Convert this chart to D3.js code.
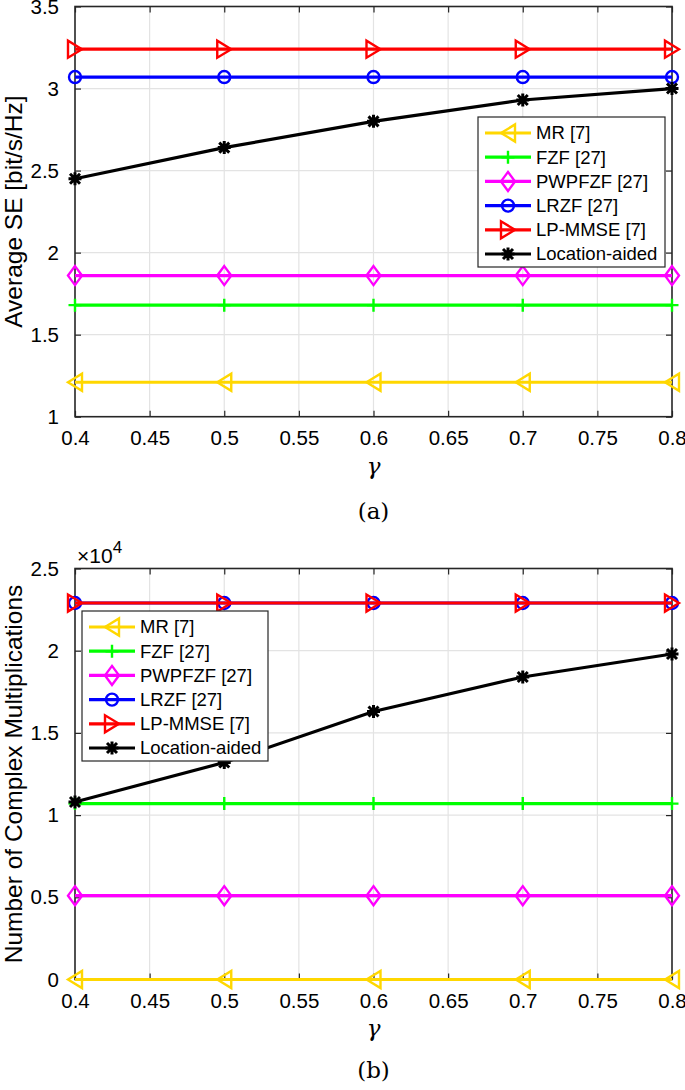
<!DOCTYPE html>
<html>
<head>
<meta charset="utf-8">
<script src="https://cdn.jsdelivr.net/npm/d3@7"></script>
<style>
  html, body { margin: 0; padding: 0; background: #fff; }
  svg { display: block; }
</style>
</head>
<body>
<svg id="chart" width="685" height="1090"></svg>
<script>
// ---------------- data ----------------
const gammaValues = [0.4, 0.5, 0.6, 0.7, 0.8];
const seriesNames = ["MR [7]", "FZF [27]", "PWPFZF [27]", "LRZF [27]", "LP-MMSE [7]", "Location-aided"];
const xTicks = [0.4, 0.45, 0.5, 0.55, 0.6, 0.65, 0.7, 0.75, 0.8];
const xTickLabels = ["0.4", "0.45", "0.5", "0.55", "0.6", "0.65", "0.7", "0.75", "0.8"];

// (a) Average SE [bit/s/Hz]
const seMR       = [1.21, 1.21, 1.21, 1.21, 1.21];
const seFZF      = [1.68, 1.68, 1.68, 1.68, 1.68];
const sePWPFZF   = [1.86, 1.86, 1.86, 1.86, 1.86];
const seLRZF     = [3.07, 3.07, 3.07, 3.07, 3.07];
const seLPMMSE   = [3.24, 3.24, 3.24, 3.24, 3.24];
const seLocation = [2.45, 2.64, 2.80, 2.93, 3.00];
const yTicksA = [1, 1.5, 2, 2.5, 3, 3.5];
const yTickLabelsA = ["1", "1.5", "2", "2.5", "3", "3.5"];

// (b) Number of complex multiplications (x 10^4)
const cmMR       = [0, 0, 0, 0, 0];
const cmFZF      = [1.07, 1.07, 1.07, 1.07, 1.07];
const cmPWPFZF   = [0.51, 0.51, 0.51, 0.51, 0.51];
const cmLRZF     = [2.29, 2.29, 2.29, 2.29, 2.29];
const cmLPMMSE   = [2.29, 2.29, 2.29, 2.29, 2.29];
const cmLocation = [1.08, 1.32, 1.63, 1.84, 1.98];
const yTicksB = [0, 0.5, 1, 1.5, 2, 2.5];
const yTickLabelsB = ["0", "0.5", "1", "1.5", "2", "2.5"];

// ---------------- styles ----------------
const colors = ["#FFD700", "#00FF00", "#FF00FF", "#0000FF", "#FF0000", "#000000"];
const markers = ["tri-left", "plus", "diamond", "circle", "tri-right", "star"];
const SANS = "'Liberation Sans', Arial, Helvetica, sans-serif";
const SERIF = "'DejaVu Serif', 'Liberation Serif', serif";

const svg = d3.select("#chart");

function markerPath(type) {
  const p = d3.path();
  switch (type) {
    case "tri-left":
      p.moveTo(-7, 0); p.lineTo(7, -8.5); p.lineTo(7, 8.5); p.closePath(); break;
    case "tri-right":
      p.moveTo(7, 0); p.lineTo(-7, -8.5); p.lineTo(-7, 8.5); p.closePath(); break;
    case "diamond":
      p.moveTo(0, -9.5); p.lineTo(7, 0); p.lineTo(0, 9.5); p.lineTo(-7, 0); p.closePath(); break;
    case "circle":
      p.arc(0, 0, 6, 0, 2 * Math.PI); break;
    case "plus":
      p.moveTo(-6.5, 0); p.lineTo(6.5, 0); p.moveTo(0, -6.5); p.lineTo(0, 6.5); break;
    case "star":
      p.moveTo(-6.5, 0); p.lineTo(6.5, 0); p.moveTo(0, -6.5); p.lineTo(0, 6.5);
      p.moveTo(-5, -5); p.lineTo(5, 5); p.moveTo(-5, 5); p.lineTo(5, -5); break;
  }
  return p.toString();
}

function drawMarker(g, type, color, x, y) {
  g.append("path")
    .attr("d", markerPath(type))
    .attr("transform", `translate(${x},${y})`)
    .attr("fill", "none")
    .attr("stroke", color)
    .attr("stroke-width", type === "star" ? 3 : 2.4)
    .attr("stroke-linejoin", "miter");
}

function drawPanel(opts) {
  const { top, bottom, left, right, yDomain, yTicks, yTickLabels, series, yLabel, legend, caption, captionY, gammaY, exponent } = opts;
  const x = d3.scaleLinear().domain([0.4, 0.8]).range([left, right]);
  const y = d3.scaleLinear().domain(yDomain).range([bottom, top]);
  const g = svg.append("g");

  // grid
  g.append("g").selectAll("line.vg").data(xTicks.slice(1, -1)).join("line")
    .attr("x1", d => x(d)).attr("x2", d => x(d)).attr("y1", top).attr("y2", bottom)
    .attr("stroke", "#e3e3e3").attr("stroke-width", 1.2);
  g.append("g").selectAll("line.hg").data(yTicks.slice(1, -1)).join("line")
    .attr("x1", left).attr("x2", right).attr("y1", d => y(d)).attr("y2", d => y(d))
    .attr("stroke", "#e3e3e3").attr("stroke-width", 1.2);

  // axes via d3 axis generators (inward ticks)
  const fmtX = (d, i) => xTickLabels[i];
  const fmtY = (d, i) => yTickLabels[i];
  const styleAxis = (sel) => {
    sel.select(".domain").remove();
    sel.selectAll(".tick line").attr("stroke", "#262626").attr("stroke-width", 1.2);
    sel.selectAll(".tick text").attr("fill", "#000").style("font-family", SANS).style("font-size", "20.5px");
  };
  g.append("g").attr("transform", `translate(0,${bottom})`)
    .call(d3.axisBottom(x).tickValues(xTicks).tickFormat(fmtX).tickSizeInner(-6).tickPadding(14))
    .call(styleAxis);
  g.append("g").attr("transform", `translate(0,${top})`)
    .call(d3.axisTop(x).tickValues(xTicks).tickFormat("").tickSizeInner(-6))
    .call(styleAxis);
  g.append("g").attr("transform", `translate(${left},0)`)
    .call(d3.axisLeft(y).tickValues(yTicks).tickFormat(fmtY).tickSizeInner(-6).tickPadding(16))
    .call(styleAxis);
  g.append("g").attr("transform", `translate(${right},0)`)
    .call(d3.axisRight(y).tickValues(yTicks).tickFormat("").tickSizeInner(-6))
    .call(styleAxis);

  // box
  g.append("rect").attr("x", left).attr("y", top).attr("width", right - left).attr("height", bottom - top)
    .attr("fill", "none").attr("stroke", "#262626").attr("stroke-width", 1.6);

  // series
  const line = d3.line().x((d, i) => x(gammaValues[i])).y(d => y(d));
  series.forEach((vals, si) => {
    const sg = g.append("g");
    sg.append("path").datum(vals).attr("d", line)
      .attr("fill", "none").attr("stroke", colors[si]).attr("stroke-width", 3.2);
    vals.forEach((v, i) => drawMarker(sg, markers[si], colors[si], x(gammaValues[i]), y(v)));
  });

  // legend
  const lg = g.append("g");
  lg.append("rect").attr("x", legend.x).attr("y", legend.y).attr("width", legend.w).attr("height", legend.h)
    .attr("fill", "#fff").attr("stroke", "#262626").attr("stroke-width", 1.2);
  seriesNames.forEach((name, si) => {
    const ry = legend.y + 16 + si * 24.2;
    lg.append("line").attr("x1", legend.x + 7).attr("x2", legend.x + 53).attr("y1", ry).attr("y2", ry)
      .attr("stroke", colors[si]).attr("stroke-width", 3.2);
    drawMarker(lg, markers[si], colors[si], legend.x + 30, ry);
    lg.append("text").attr("x", legend.x + 58).attr("y", ry).attr("dy", "0.35em")
      .style("font-family", SANS).style("font-size", "18.5px").text(name);
  });

  // y label
  g.append("text")
    .attr("transform", `translate(22,${(top + bottom) / 2}) rotate(-90)`)
    .attr("text-anchor", "middle")
    .style("font-family", SANS).style("font-size", "24.5px").text(yLabel);

  // x label
  g.append("text").attr("x", (left + right) / 2).attr("y", gammaY).attr("text-anchor", "middle")
    .style("font-family", SERIF).style("font-style", "italic").style("font-size", "23px").text("γ");

  // caption
  g.append("text").attr("x", (left + right) / 2).attr("y", captionY).attr("text-anchor", "middle")
    .style("font-family", SERIF).style("font-size", "23px").text(caption);

  if (exponent) {
    const t = g.append("text").attr("x", left + 2).attr("y", top - 6)
      .style("font-family", SANS).style("font-size", "21px");
    t.append("tspan").text("×10");
    t.append("tspan").attr("dy", -10).style("font-size", "17px").text("4");
  }
}

drawPanel({
  top: 6.5, bottom: 416.7, left: 75, right: 672,
  yDomain: [1, 3.5], yTicks: yTicksA, yTickLabels: yTickLabelsA,
  series: [seMR, seFZF, sePWPFZF, seLRZF, seLPMMSE, seLocation],
  yLabel: "Average SE [bit/s/Hz]",
  legend: { x: 478, y: 117, w: 187, h: 150 },
  gammaY: 474, caption: "(a)", captionY: 519
});

drawPanel({
  top: 568.5, bottom: 979.5, left: 75, right: 672,
  yDomain: [0, 2.5], yTicks: yTicksB, yTickLabels: yTickLabelsB,
  series: [cmMR, cmFZF, cmPWPFZF, cmLRZF, cmLPMMSE, cmLocation],
  yLabel: "Number of Complex Multiplications",
  legend: { x: 82, y: 611, w: 186, h: 150 },
  gammaY: 1036, caption: "(b)", captionY: 1078, exponent: true
});
</script>
</body>
</html>
